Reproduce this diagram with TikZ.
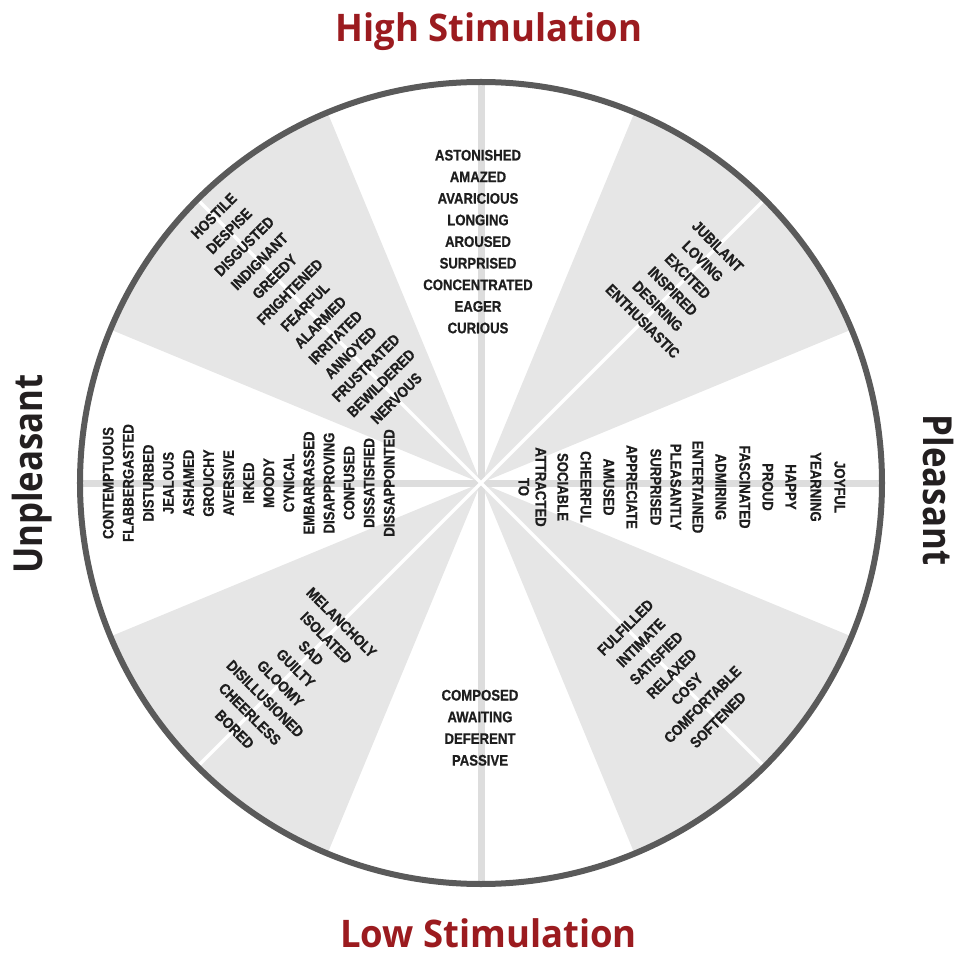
\documentclass[tikz,border=0pt]{standalone}
\usepackage{fontspec}
\setmainfont{Liberation Sans}
\newfontfamily\wordfont[FakeStretch=0.86,FakeBold=0.7]{Liberation Sans Bold}
\newfontfamily\headfont[FakeStretch=0.96]{Open Sans}
\newfontfamily\valencefont[FakeStretch=0.87]{Open Sans}

\definecolor{sectorgray}{HTML}{E6E6E6}
\definecolor{axisgray}{HTML}{DDDDDD}
\definecolor{rimgray}{HTML}{5A5A5A}
\definecolor{wordink}{HTML}{1E1E1E}
\definecolor{stimred}{HTML}{9B1B1F}
\definecolor{valenceink}{HTML}{231F20}

\tikzset{
  word/.style={font={\wordfont\fontsize{15.3}{18}\selectfont}, text=wordink,
               inner sep=0pt, text height=11pt, text depth=0pt},
  stimlabel/.style={font={\headfont\bfseries\fontsize{38}{44}\selectfont}, text=stimred,
               inner sep=0pt, anchor=base},
  valencelabel/.style={font={\valencefont\bfseries\fontsize{40}{46}\selectfont}, text=valenceink,
               inner sep=0pt, anchor=base},
  axisline/.style={draw=axisgray, line width=7pt},
  diagline/.style={draw=white, line width=3.5pt},
  rim/.style={draw=rimgray, line width=6pt}
}

\begin{document}
\begin{tikzpicture}[x=1pt, y=1pt]
  % canvas, origin at the wheel's centre
  \useasboundingbox (-481,-472) rectangle (479,483);
  \def\R{401}
  \coordinate (c) at (0,0);

  % shaded sectors
  \foreach \a in {22.5,112.5,202.5,292.5}
    \fill[sectorgray] (c) -- (\a:\R) arc[start angle=\a, end angle=\a+45, radius=\R] -- cycle;

  % axes through the white sectors
  \coordinate (axN) at (90:\R);  \coordinate (axS) at (270:\R);
  \coordinate (axE) at (0:\R);   \coordinate (axW) at (180:\R);
  \draw[axisline] (axN) -- (axS);
  \draw[axisline] (axW) -- (axE);

  % diagonals through the shaded sectors
  \foreach \a/\n in {45/dNE,135/dNW,225/dSW,315/dSE} {
    \coordinate (\n) at (\a:\R);
    \draw[diagline] (c) -- (\n);
  }

  % top sector
  \foreach \w [count=\i from 0] in {ASTONISHED,AMAZED,AVARICIOUS,LONGING,AROUSED,SURPRISED,CONCENTRATED,EAGER,CURIOUS}
    \node[word] (top-\i) at (-3,{328-21.6*\i}) {\w};

  % bottom sector
  \foreach \w [count=\i from 0] in {COMPOSED,AWAITING,DEFERENT,PASSIVE}
    \node[word] (bot-\i) at (-1,{-212-21.7*\i}) {\w};

  % upper left sector
  \foreach \w [count=\i from 0] in {HOSTILE,DESPISE,DISGUSTED,INDIGNANT,GREEDY,FRIGHTENED,FEARFUL,ALARMED,IRRITATED,ANNOYED,FRUSTRATED,BEWILDERED,NERVOUS}
    \node[word, rotate=45] (nw-\i) at (135:{378-21.5*\i}) {\w};

  % upper right sector
  \foreach \w [count=\i from 0] in {JUBILANT,LOVING,EXCITED,INSPIRED,DESIRING,ENTHUSIASTIC}
    \node[word, rotate=-45] (ne-\i) at (45:{335-21.2*\i}) {\w};

  % lower left sector
  \foreach \w [count=\i from 0] in {MELANCHOLY,ISOLATED,SAD,GUILTY,GLOOMY,DISILLUSIONED,CHEERLESS,BORED}
    \node[word, rotate=-45] (sw-\i) at (225:{197+21.6*\i}) {\w};

  % lower right sector
  \foreach \w [count=\i from 0] in {FULFILLED,INTIMATE,SATISFIED,RELAXED,COSY,COMFORTABLE,SOFTENED}
    \node[word, rotate=45] (se-\i) at (315:{204+21.8*\i}) {\w};

  % left sector
  \foreach \w [count=\i from 0] in {CONTEMPTUOUS,FLABBERGASTED,DISTURBED,JEALOUS,ASHAMED,GROUCHY,AVERSIVE,IRKED,MOODY,CYNICAL,EMBARRASSED,DISAPPROVING,CONFUSED,DISSATISFIED,DISSAPPOINTED}
    \node[word, rotate=90] (w-\i) at ({-373+20.07*\i},0) {\w};

  % right sector
  \foreach \w/\x [count=\i from 0] in {JOYFUL/359,YEARNING/335,HAPPY/310,PROUD/287,FASCINATED/264,ADMIRING/240,ENTERTAINED/217,PLEASANTLY/195,SURPRISED/175,APPRECIATE/151,AMUSED/128,CHEERFUL/105,SOCIABLE/82,ATTRACTED/60,TO/43}
    \node[word, rotate=-90] (e-\i) at (\x,-4) {\w};

  % rim
  \draw[rim] (c) circle[radius=\R];

  % axis titles
  \node[stimlabel] (high) at (8,441) {High Stimulation};
  \node[stimlabel] (low) at (7.5,-464) {Low Stimulation};
  \node[valencelabel, rotate=90] (unpleasant) at (-438,9) {Unpleasant};
  \node[valencelabel, rotate=-90] (pleasant) at (442,-7) {Pleasant};
\end{tikzpicture}
\end{document}
